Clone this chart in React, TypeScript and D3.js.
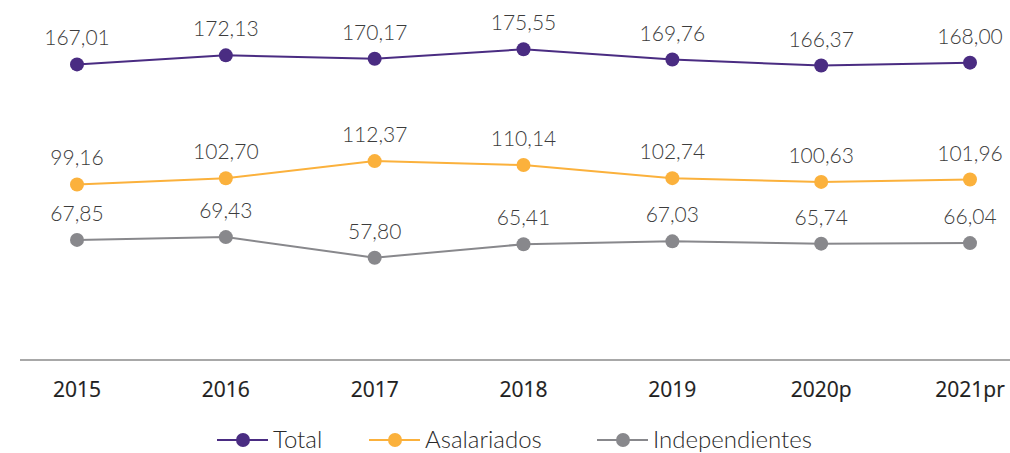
import React from "react";
import * as d3 from "d3";

const years = ["2015", "2016", "2017", "2018", "2019", "2020p", "2021pr"];
const total = [167.01, 172.13, 170.17, 175.55, 169.76, 166.37, 168.0];
const asalariados = [99.16, 102.7, 112.37, 110.14, 102.74, 100.63, 101.96];
const independientes = [67.85, 69.43, 57.8, 65.41, 67.03, 65.74, 66.04];

const seriesNames = ["Total", "Asalariados", "Independientes"];
const seriesColors = ["#4a2c82", "#fbb13c", "#88888c"];
const allSeries = [total, asalariados, independientes];

const width = 1010;
const height = 453;
const margin = { top: 6, right: 40, bottom: 93, left: 77 };

const xScale = d3
  .scalePoint<string>()
  .domain(years)
  .range([margin.left, width - margin.right]);

const yScale = d3
  .scaleLinear()
  .domain([0, 200])
  .range([height - margin.bottom, margin.top]);

const fmt = (v: number) => d3.format(".2f")(v).replace(".", ",");

const font = "Lato, 'Open Sans', sans-serif";

// legend slots: x of line start
const legendX = [217, 369, 597];

export default function App() {
  const line = d3
    .line<number>()
    .x((_, i) => xScale(years[i]) as number)
    .y((d) => yScale(d));

  return (
    <svg
      width={width}
      height={height}
      style={{ position: "absolute", left: 0, top: 0 }}
      fontFamily={font}
    >
      {/* baseline */}
      <line
        x1={20}
        x2={width}
        y1={yScale(0)}
        y2={yScale(0)}
        stroke="#a8a8a8"
        strokeWidth={2}
      />
      {years.map((y) => (
        <text
          key={y}
          x={xScale(y)}
          y={yScale(0) + 37}
          textAnchor="middle"
          fontSize={21}
          fontWeight={500}
          fontFamily="'Open Sans', sans-serif"
          fill="#1e1e1e"
          stroke="#1e1e1e"
          strokeWidth={0.2}
        >
          {y}
        </text>
      ))}

      {allSeries.map((s, si) => (
        <g key={seriesNames[si]}>
          <path
            d={line(s) || ""}
            fill="none"
            stroke={seriesColors[si]}
            strokeWidth={2}
          />
          {s.map((v, i) => (
            <g key={i}>
              <circle
                cx={xScale(years[i])}
                cy={yScale(v)}
                r={7}
                fill={seriesColors[si]}
              />
              <text
                x={xScale(years[i])}
                y={yScale(v) - 19}
                textAnchor="middle"
                fontSize={21}
                fontWeight={300}
                fill="#3c3c3c"
              >
                {fmt(v)}
              </text>
            </g>
          ))}
        </g>
      ))}

      {/* legend */}
      {seriesNames.map((n, i) => (
        <g key={n} transform={`translate(${legendX[i]},440)`}>
          <line x1={0} x2={51} stroke={seriesColors[i]} strokeWidth={2} />
          <circle cx={26} cy={0} r={7} fill={seriesColors[i]} />
          <text x={56} y={8} fontSize={24} fontWeight={300} fill="#2a2a2a">
            {n}
          </text>
        </g>
      ))}
    </svg>
  );
}
